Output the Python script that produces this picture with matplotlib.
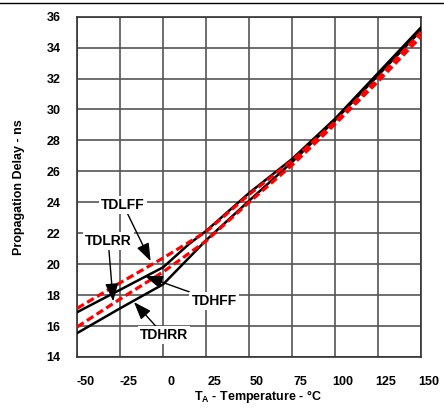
import numpy as np
import matplotlib
matplotlib.use('Agg')
import matplotlib.pyplot as plt
import matplotlib.transforms as mtransforms
from matplotlib.lines import Line2D

plt.rcParams['font.family'] = ['Liberation Sans', 'DejaVu Sans']
plt.rcParams['mathtext.fontset'] = 'custom'
plt.rcParams['mathtext.bf'] = 'Liberation Sans:bold'
plt.rcParams['mathtext.rm'] = 'Liberation Sans:bold'

# propagation delay (ns) vs ambient temperature (C)
tdlff_x = [-50, -25, 0, 25, 50, 75, 100, 125, 150]
tdlff_y = [17.15, 18.8, 20.4, 22.1, 24.5, 26.7, 29.2, 32.0, 35.0]

tdhff_x = [-50, -25, 0, 15, 25, 50, 75, 100, 125, 150]
tdhff_y = [16.9, 18.35, 19.8, 21.3, 22.15, 24.6, 26.8, 29.4, 32.35, 35.3]

tdlrr_x = [-50, -25, 0, 25, 50, 75, 100, 125, 150]
tdlrr_y = [15.95, 17.75, 19.5, 21.5, 24.0, 26.4, 29.05, 31.8, 34.7]

tdhrr_x = [-50, -25, 0, 25, 50, 75, 100, 125, 150]
tdhrr_y = [15.55, 17.15, 18.7, 21.55, 24.1, 26.6, 29.3, 32.2, 35.1]

xticks = [-50, -25, 0, 25, 50, 75, 100, 125, 150]
yticks = [14, 16, 18, 20, 22, 24, 26, 28, 30, 32, 34, 36]

# label text position, arrow head position
labels = {
    'TDLFF': ((-23.3, 23.85), (-7.3, 20.2)),
    'TDLRR': ((-32.0, 21.48), (-29.1, 17.6)),
    'TDHFF': ((29.6, 17.64), (-10.6, 19.23)),
    'TDHRR': ((0.5, 15.41), (-17.0, 17.55)),
}

fig = plt.figure(figsize=(4.44, 4.13), dpi=100)
ax = fig.add_axes([0.174, 0.1356, 0.774, 0.824])

ax.plot(tdhff_x, tdhff_y, color='k', lw=1.8, zorder=3)
ax.plot(tdhrr_x, tdhrr_y, color='k', lw=1.8, zorder=3)
ax.plot(tdlff_x, tdlff_y, color='#ff0000', lw=2.3, ls=(0, (2.4, 1.2)), zorder=4)
ax.plot(tdlrr_x, tdlrr_y, color='#ff0000', lw=2.3, ls=(0, (2.4, 1.2)), zorder=4)

for name, (txt, head) in labels.items():
    ax.annotate(name, xy=head, xytext=txt, ha='center', va='center',
                fontsize=10, fontweight='bold', zorder=6,
                bbox=dict(boxstyle='square,pad=0.15', fc='white', ec='none'),
                arrowprops=dict(arrowstyle='-|>,head_length=0.6,head_width=0.22',
                                color='k', lw=1, mutation_scale=18, shrinkA=0, shrinkB=0))

ax.set_xlim(-50, 150)
ax.set_ylim(14, 36)
ax.set_xticks(xticks)
ax.set_yticks(yticks)
ax.set_xticklabels([str(t) for t in xticks], fontsize=9, fontweight='bold')
ax.set_yticklabels([str(t) for t in yticks], fontsize=9, fontweight='bold')
ax.tick_params(length=0)
ax.tick_params(axis='x', pad=14)
ax.tick_params(axis='y', pad=12)
shift = mtransforms.ScaledTranslation(0.08, 0, fig.dpi_scale_trans)
for lab in ax.get_xticklabels():
    lab.set_transform(lab.get_transform() + shift)
ax.grid(True, color='#555555', lw=1.2)
for s in ax.spines.values():
    s.set_color('#333333')
    s.set_linewidth(1.2)

fig.text(0.58, 0.02, r'T$_\mathbf{A}$ - Temperature - °C', ha='center', va='bottom',
         fontsize=9, fontweight='bold')
fig.text(0.043, 0.547, 'Propagation Delay - ns', rotation=90, ha='center', va='center',
         fontsize=9, fontweight='bold')

fig.add_artist(Line2D([0, 1], [1 - 2.5 / 413] * 2, color='k', lw=1))

fig.savefig('out.png', dpi=100)
